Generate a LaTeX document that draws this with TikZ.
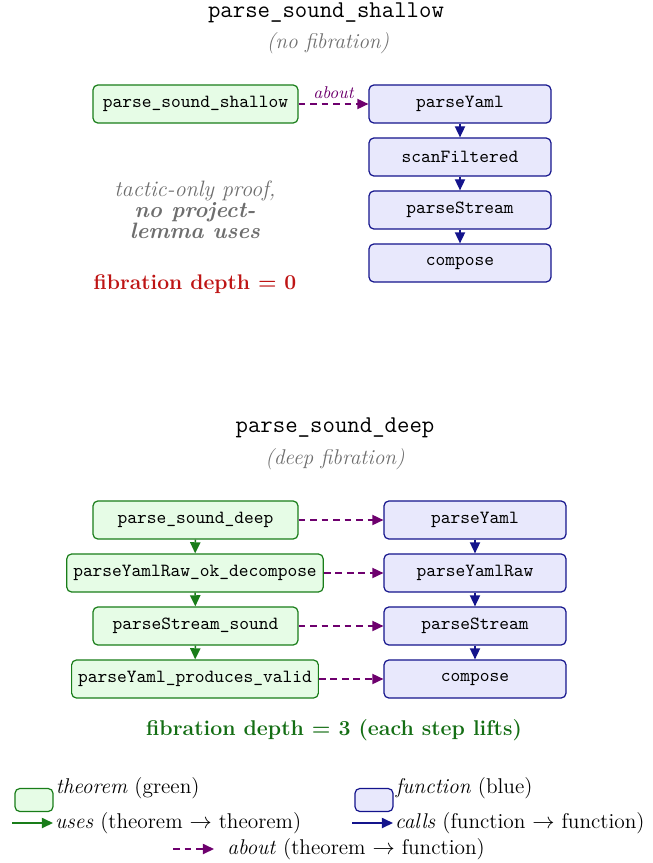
\documentclass[tikz,border=0pt]{standalone}
\usetikzlibrary{arrows.meta,positioning}
\definecolor{thmdraw}{RGB}{25,125,25}
\definecolor{thmfill}{RGB}{230,252,230}
\definecolor{fndraw}{RGB}{20,20,140}
\definecolor{fnfill}{RGB}{232,232,252}
\definecolor{aboutc}{RGB}{110,0,110}
\definecolor{redc}{RGB}{190,20,20}
\definecolor{greentext}{RGB}{20,110,20}
\definecolor{grayc}{RGB}{110,110,110}
\tikzset{
  thm/.style={draw=thmdraw,fill=thmfill,line width=0.65pt,rounded corners=2.6pt,
    minimum width=110.5pt,minimum height=20.5pt,inner xsep=3.5pt,
    font=\ttfamily\fontsize{10}{12}\selectfont},
  fn/.style={draw=fndraw,fill=fnfill,line width=0.65pt,rounded corners=2.6pt,
    minimum width=98.1pt,minimum height=20.5pt,inner xsep=3.5pt,
    font=\ttfamily\fontsize{10}{12}\selectfont},
  usesarr/.style={draw=thmdraw,line width=0.8pt,-{Triangle[length=6pt,width=5.5pt]}},
  callsarr/.style={draw=fndraw,line width=0.8pt,-{Triangle[length=6pt,width=5.5pt]}},
  aboutarr/.style={draw=aboutc,line width=0.8pt,dash pattern=on 3.6pt off 2.6pt,
    -{Triangle[length=6pt,width=5.5pt]}},
  titletext/.style={font=\ttfamily\fontsize{13}{15}\selectfont},
  subtext/.style={text=grayc,font=\fontsize{11.5}{13}\selectfont\itshape},
  legbox/.style={line width=0.65pt,rounded corners=2.6pt,minimum width=20.5pt,minimum height=12.4pt},
  legtext/.style={anchor=west,inner sep=1pt,font=\fontsize{11.5}{13}\selectfont},
}
\begin{document}
\begin{tikzpicture}[x=0.5391pt,y=-0.5391pt]
\useasboundingbox (0,0) rectangle (653,863);
% ---------- top: shallow ----------
\node[titletext] (t1) at (326,13) {parse\_sound\_shallow};
\node[subtext] (s1) at (328,43) {(no fibration)};
\node[thm] (a0) at (195.5,104) {parse\_sound\_shallow};
\node[fn] (f1) at (460,104) {parseYaml};
\node[fn] (f2) at (460,157) {scanFiltered};
\node[fn] (f3) at (460,210) {parseStream};
\node[fn] (f4) at (460,263) {compose};
\draw[aboutarr] (a0) -- node[above=-1pt,text=aboutc,font=\fontsize{9.2}{10}\selectfont\itshape]{about} (f1);
\draw[callsarr] (f1) -- (f2);
\draw[callsarr] (f2) -- (f3);
\draw[callsarr] (f3) -- (f4);
\node[align=center,text=grayc,font=\fontsize{12}{11.4}\selectfont] (note) at (195,210)
  {\textit{tactic-only proof,}\\\textbf{\textit{no project-}}\\\textbf{\textit{lemma uses}}};
\node[text=redc,font=\fontsize{11.4}{13}\selectfont\bfseries] (d0) at (195,284) {fibration depth = 0};
% ---------- bottom: deep ----------
\node[titletext] (t2) at (335,428) {parse\_sound\_deep};
\node[subtext] (s2) at (335,459) {(deep fibration)};
\node[thm] (b1) at (195.5,520) {parse\_sound\_deep};
\node[thm] (b2) at (195,573) {parseYamlRaw\_ok\_decompose};
\node[thm] (b3) at (195.5,626) {parseStream\_sound};
\node[thm] (b4) at (195,679) {parseYaml\_produces\_valid};
\node[fn] (g1) at (475,520) {parseYaml};
\node[fn] (g2) at (475,573) {parseYamlRaw};
\node[fn] (g3) at (475,626) {parseStream};
\node[fn] (g4) at (475,679) {compose};
\draw[usesarr] (b1) -- (b2);
\draw[usesarr] (b2) -- (b3);
\draw[usesarr] (b3) -- (b4);
\draw[callsarr] (g1) -- (g2);
\draw[callsarr] (g2) -- (g3);
\draw[callsarr] (g3) -- (g4);
\draw[aboutarr] (b1) -- (g1);
\draw[aboutarr] (b2) -- (g2);
\draw[aboutarr] (b3) -- (g3);
\draw[aboutarr] (b4) -- (g4);
\node[text=greentext,font=\fontsize{11.5}{13}\selectfont\bfseries] (d3) at (334,730) {fibration depth = 3 (each step lifts)};
% ---------- legend ----------
\node[legbox,draw=thmdraw,fill=thmfill] (lb1) at (34,800) {};
\node[legtext] (lt1) at (lb1.north east) {\textit{theorem} (green)};
\node[legbox,draw=fndraw,fill=fnfill] (lb2) at (374,800) {};
\node[legtext] (lt2) at (lb2.north east) {\textit{function} (blue)};
\coordinate (u0) at (12,823);
\coordinate (u1) at (53,823);
\draw[usesarr] (u0) -- (u1);
\node[legtext] (lt3) at (u1) {\textit{uses} (theorem $\rightarrow$ theorem)};
\coordinate (c0) at (352,823);
\coordinate (c1) at (393,823);
\draw[callsarr] (c0) -- (c1);
\node[legtext] (lt4) at (c1) {\textit{calls} (function $\rightarrow$ function)};
\coordinate (p0) at (173,849);
\coordinate (p1) at (214,849);
\draw[aboutarr] (p0) -- (p1);
\node[legtext,xshift=6pt] (lt5) at (p1) {\textit{about} (theorem $\rightarrow$ function)};
\end{tikzpicture}
\end{document}
